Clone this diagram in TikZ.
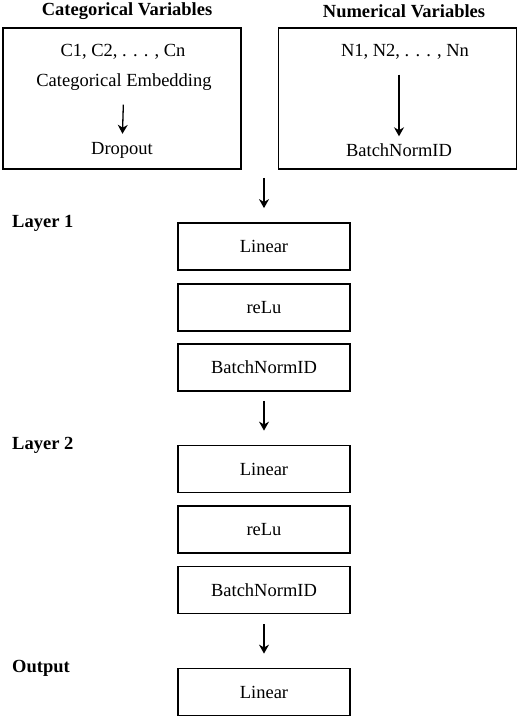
\documentclass[tikz,border=0pt]{standalone}
\usepackage{fontspec}
\setmainfont{Liberation Serif}
\usepackage{tikz}
\usetikzlibrary{calc}
\usetikzlibrary{arrows.meta}
\usetikzlibrary{positioning}

\newcommand{\diagfont}{\fontsize{18.5}{22}\selectfont}

\tikzset{
    layerbox/.style   = {draw, line width=1.8pt, minimum width=172pt, minimum height=47pt, inner sep=0pt},
    inputbox/.style   = {draw, line width=1.8pt, minimum width=238pt, minimum height=141pt, inner sep=0pt},
    plaintext/.style  = {inner sep=0pt},
    headtext/.style   = {inner sep=0pt, font=\diagfont\bfseries},
    flow/.style       = {line width=1.3pt, -{Stealth[length=9pt, width=10pt]}}
}

\begin{document}
\begin{tikzpicture}[x=1pt, y=-1pt, font=\diagfont]
            \useasboundingbox (0, 0) rectangle (520, 718);
            % Categorical input
            \node[headtext]                  (cattitle) at (127.0,  11.0) {Categorical Variables};
            \node[inputbox]                  (catbox)   at (122.0,  98.5) {};
            \node[plaintext]                 (clist)    at (123.0,  52.0) {C1, C2, . . . , Cn};
            \node[plaintext]                 (cemb)     at (124.0,  82.0) {Categorical Embedding};
            \node[plaintext]                 (cdrop)    at (122.0, 150.0) {Dropout};
            \draw[flow, shorten <=14pt, shorten >=8pt]  (cemb) -- (cdrop);
            % Numerical input
            \node[headtext]                  (numtitle) at (404.0,  11.0) {Numerical Variables};
            \node[inputbox]                  (numbox)   at (397.5,  98.5) {};
            \node[plaintext]                 (nlist)    at (405.0,  52.0) {N1, N2, . . . , Nn};
            \node[plaintext]                 (nbn)      at (399.0, 150.0) {BatchNormID};
            \draw[flow, shorten <=15pt, shorten >=7pt]  (nlist.south -| nbn.north) -- (nbn.north);
            % Layer 1
            \node[headtext, anchor=west]     (layer1)   at ( 12.0, 223.0) {Layer 1};
            \node[layerbox]                  (lin1)     at (264.0, 246.5) {Linear};
            \node[layerbox]                  (relu1)    at (264.0, 307.5) {reLu};
            \node[layerbox]                  (bn1)      at (264.0, 367.5) {BatchNormID};
            \draw[flow, shorten <=8pt, shorten >=14pt]  (lin1.north |- catbox.south) -- (lin1.north);
            % Layer 2
            \node[headtext, anchor=west]     (layer2)   at ( 12.0, 445.0) {Layer 2};
            \node[layerbox]                  (lin2)     at (264.0, 469.0) {Linear};
            \node[layerbox]                  (relu2)    at (264.0, 529.5) {reLu};
            \node[layerbox]                  (bn2)      at (264.0, 590.0) {BatchNormID};
            \draw[flow, shorten <=9pt, shorten >=14pt]  (bn1) -- (lin2);
            % Output
            \node[headtext, anchor=west]     (outlabel) at ( 12.0, 668.0) {Output};
            \node[layerbox]                  (linout)   at (264.0, 692.0) {Linear};
            \draw[flow, shorten <=10pt, shorten >=14pt] (bn2) -- (linout);
        \end{tikzpicture}
\end{document}
